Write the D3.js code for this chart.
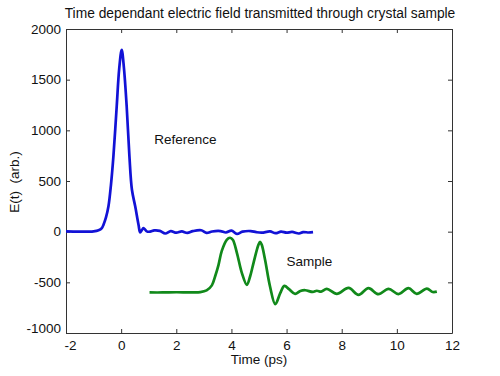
<!DOCTYPE html>
<html>
<head>
<meta charset="utf-8">
<script src="https://cdn.jsdelivr.net/npm/d3@7"></script>
<style>
  html, body { margin: 0; padding: 0; background: #fff; }
  svg { display: block; font-family: 'Liberation Sans', Arial, sans-serif; }
</style>
</head>
<body>
<div id="chart"></div>
<script>
// reference pulse
const refT = [-2, -1.5, -1.0, -0.82, -0.7, -0.64, -0.55, -0.46, -0.37, -0.28, -0.16, -0.07, 0.02, 0.1, 0.2, 0.3, 0.39, 0.51, 0.63, 0.69, 0.75, 0.81, 0.87, 0.93, 1.05, 1.2, 1.4, 1.6, 1.8, 2.0, 2.2, 2.4, 2.6, 2.9, 3.1, 3.3, 3.6, 3.8, 4.0, 4.2, 4.4, 4.7, 4.9, 5.1, 5.4, 5.6, 5.8, 6.0, 6.2, 6.45, 6.6, 6.8, 6.96]
const refE = [2, 0, 3, 13, 35, 69, 140, 250, 460, 745, 1240, 1610, 1795, 1620, 1240, 745, 416, 250, 69, -7, 15, 36, 20, 3, 0, 12, 8, -18, 5, -10, 2, -12, 5, 14, -12, 2, 6, -8, 10, -22, 0, 6, -5, -10, 2, -15, 0, -10, -3, -18, -4, -8, -5]

// transmitted through the sample
const samT = [1.03, 1.5, 2.0, 2.5, 2.87, 3.1, 3.29, 3.41, 3.53, 3.65, 3.83, 3.95, 4.05, 4.2, 4.38, 4.56, 4.68, 4.8, 4.98, 5.04, 5.1, 5.22, 5.4, 5.59, 5.77, 5.92, 6.1, 6.31, 6.5, 6.68, 6.95, 7.1, 7.25, 7.46, 7.82, 8.25, 8.61, 8.97, 9.33, 9.7, 10.06, 10.42, 10.72, 11.09, 11.3, 11.45]
const samE = [-600, -600, -598, -599, -597, -580, -530, -440, -330, -190, -80, -60, -80, -211, -409, -525, -440, -310, -129, -100, -130, -277, -541, -715, -607, -535, -570, -614, -585, -578, -595, -583, -592, -564, -614, -555, -624, -558, -617, -564, -616, -558, -614, -562, -595, -592]

const xTicks = [-2, 0, 2, 4, 6, 8, 10, 12]
const yTicks = [-1000, -500, 0, 500, 1000, 1500, 2000]

const W = 500
const H = 376
const margin = { top: 29, right: 48, bottom: 43, left: 66 }
const iw = W - margin.left - margin.right
const ih = H - margin.top - margin.bottom
const fs = 13.5

const svg = d3.select('#chart').append('svg')
  .attr('width', W)
  .attr('height', H)

const x = d3.scaleLinear().domain([-2, 12]).range([0, iw])
const y = d3.scaleLinear().domain([-1000, 2000]).range([ih, 0])

const g = svg.append('g').attr('transform', `translate(${margin.left},${margin.top})`)

// plain hyphen minus, no thousands separator
const plain = (d) => String(d)

// inward ticks on all four sides, like matlab's box
const tk = 4
const axB = g.append('g').attr('transform', `translate(0,${ih})`)
  .call(d3.axisBottom(x).tickValues(xTicks).tickFormat(plain).tickSizeInner(-tk).tickSizeOuter(0).tickPadding(7))
const axT = g.append('g')
  .call(d3.axisTop(x).tickValues(xTicks).tickSizeInner(-tk).tickSizeOuter(0).tickFormat(''))
const axL = g.append('g')
  .call(d3.axisLeft(y).tickValues(yTicks).tickFormat(plain).tickSizeInner(-tk).tickSizeOuter(0).tickPadding(5))
const axR = g.append('g').attr('transform', `translate(${iw},0)`)
  .call(d3.axisRight(y).tickValues(yTicks).tickSizeInner(-tk).tickSizeOuter(0).tickFormat(''))

;[axB, axT, axL, axR].forEach((a) => {
  a.select('.domain').attr('stroke', '#333').attr('stroke-width', 1)
  a.selectAll('.tick line').attr('stroke', '#333')
  a.selectAll('text').attr('fill', '#111').attr('font-size', fs)
    .style('font-family', "'Liberation Sans', Arial, sans-serif")
})

// the -1000 / -2 corner labels sit a bit apart in the original
axL.selectAll('.tick text').filter((d) => d === -1000).attr('dy', '-0.05em')
axB.selectAll('.tick text').filter((d) => d === -2).attr('dx', '0.3em')

const line = d3.line().curve(d3.curveCatmullRom.alpha(0.5))
  .x((d) => x(d[0]))
  .y((d) => y(d[1]))

g.append('path')
  .datum(d3.zip(refT, refE))
  .attr('fill', 'none')
  .attr('stroke', '#1212d6')
  .attr('stroke-width', 2.7)
  .attr('stroke-linejoin', 'round')
  .attr('d', line)

g.append('path')
  .datum(d3.zip(samT, samE))
  .attr('fill', 'none')
  .attr('stroke', '#11891a')
  .attr('stroke-width', 2.7)
  .attr('stroke-linejoin', 'round')
  .attr('d', line)

// annotations
g.append('text')
  .attr('x', x(1.2)).attr('y', y(870))
  .attr('font-size', fs).attr('fill', '#111')
  .text('Reference')

g.append('text')
  .attr('x', x(6.0)).attr('y', y(-340))
  .attr('font-size', fs).attr('fill', '#111')
  .text('Sample')

// titles
svg.append('text')
  .attr('x', margin.left + iw / 2 + 1).attr('y', 18)
  .attr('text-anchor', 'middle')
  .attr('font-size', 13.8).attr('fill', '#111')
  .text('Time dependant electric field transmitted through crystal sample')

svg.append('text')
  .attr('x', margin.left + iw / 2).attr('y', 364)
  .attr('text-anchor', 'middle')
  .attr('font-size', fs).attr('fill', '#111')
  .text('Time (ps)')

svg.append('text')
  .attr('transform', `translate(19,${margin.top + ih / 2 + 1}) rotate(-90)`)
  .attr('text-anchor', 'middle')
  .attr('font-size', fs).attr('fill', '#111')
  .attr('xml:space', 'preserve')
  .style('white-space', 'pre')
  .text('E(t)  (arb.)')
</script>
</body>
</html>
